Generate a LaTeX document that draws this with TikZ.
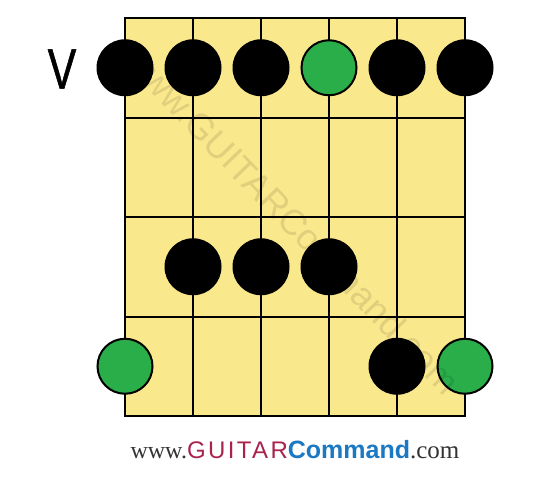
\documentclass[tikz,border=0pt]{standalone}
\usepackage{fontspec}
\setmainfont{Liberation Serif}
\newfontfamily\arialf{Liberation Sans}
\newfontfamily\vfont[FakeBold=1.2]{Liberation Sans}
\newfontfamily\guitarf[LetterSpace=10]{Liberation Sans}
\definecolor{boardyellow}{HTML}{FAE88C}
\definecolor{dotgreen}{HTML}{2AAE4A}
\definecolor{sitered}{HTML}{A8234C}
\definecolor{siteblue}{HTML}{1B78C2}
\definecolor{sitegray}{HTML}{333333}
\tikzset{
  gridline/.style={line width=2pt, black},
  blackdot/.style={circle, fill=black, minimum size=57pt, inner sep=0pt},
  rootdot/.style={circle, fill=dotgreen, draw=black, line width=2pt, minimum size=55pt, inner sep=0pt},
}
\begin{document}
\begin{tikzpicture}[x=1pt,y=1pt]
\useasboundingbox (0,0) rectangle (550,-477);
% fretboard
\fill[boardyellow] (125,-18) rectangle (465,-416);
\foreach \i in {0,...,5} {
  \coordinate (s\i top) at ({125+68*\i},-18);
  \coordinate (s\i bot) at ({125+68*\i},-416);
  \draw[gridline] (s\i top) -- (s\i bot);
}
\foreach \j in {0,...,4} {
  \coordinate (f\j l) at (125,{-18-99.5*\j});
  \coordinate (f\j r) at (465,{-18-99.5*\j});
  \draw[gridline, line cap=rect] (f\j l) -- (f\j r);
}
% position label
\node[font=\vfont\fontsize{57}{60}\selectfont, text=black] (pos) at (62,-69)
  {\scalebox{0.75}[1]{V}};
% dots, row 1
\node[blackdot] (a1) at (125,-67.75) {};
\node[blackdot] (a2) at (193,-67.75) {};
\node[blackdot] (a3) at (261,-67.75) {};
\node[rootdot]  (a4) at (329,-67.75) {};
\node[blackdot] (a5) at (397,-67.75) {};
\node[blackdot] (a6) at (465,-67.75) {};
% row 3
\node[blackdot] (c2) at (193,-266.75) {};
\node[blackdot] (c3) at (261,-266.75) {};
\node[blackdot] (c4) at (329,-266.75) {};
% row 4
\node[rootdot]  (d1) at (125,-366.25) {};
\node[blackdot] (d5) at (397,-366.25) {};
\node[rootdot]  (d6) at (465,-366.25) {};
% watermark
\node[rotate=-46, text=black, opacity=0.1, font=\arialf\fontsize{36}{40}\selectfont] (wm) at (293,-221) {www.GUITARCommand.com};
% site text
\node[anchor=base, inner sep=0pt] (site) at (295,-458) {%
  {\fontsize{24}{28}\selectfont\color{sitegray}www.}%
  {\guitarf\fontsize{24}{28}\selectfont\color{sitered}GUITAR}%
  {\arialf\bfseries\fontsize{25}{28}\selectfont\color{siteblue}Command}%
  {\fontsize{25}{28}\selectfont\color{sitegray}.com}};
\end{tikzpicture}
\end{document}
